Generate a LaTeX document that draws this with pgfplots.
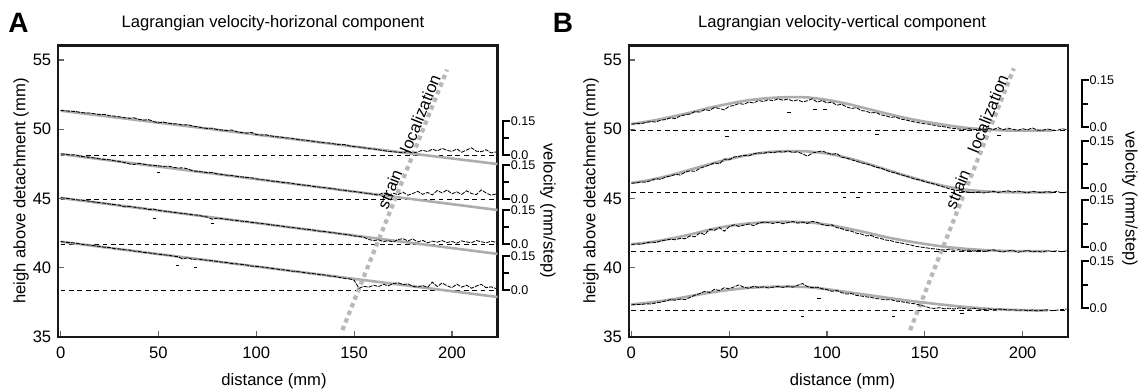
\documentclass[border=0pt]{standalone}
\usepackage{fontspec}
\setmainfont{Liberation Sans}
\usepackage{pgfplots}
\pgfplotsset{compat=1.18}
\newcommand{\lab}{\fontsize{8.3}{10}\selectfont}
\newcommand{\sml}{\fontsize{6.3}{7}\selectfont}
% bracket: #1 x of vertical line, #2 x of tick ends, #3 y bottom, #4 y middle, #5 y top
\newcommand{\vbrack}[5]{%
  \draw[black, line width=1pt, line cap=rect] (axis cs:#2,#5) -- (axis cs:#1,#5) -- (axis cs:#1,#3) -- (axis cs:#2,#3);
  \draw[black, line width=1pt] (axis cs:#1,#4) -- (axis cs:#2,#4);
  \node[anchor=west, font=\sml, inner sep=0.6pt] at (axis cs:#2,#5) {0.15};
  \node[anchor=west, font=\sml, inner sep=0.6pt] at (axis cs:#2,#3) {0.0};
}
\pgfplotsset{
 panel/.style={
  scale only axis, width=219.6pt, height=145.75pt,
  xmin=-1.2, xmax=223.3, ymin=35, ymax=56.05,
  xtick={0,50,100,150,200}, ytick={35,40,45,50,55},
  tick pos=left, tick align=inside,
  major tick length=2.8pt,
  tick style={black!60, line width=0.6pt},
  axis line style={black!90, line width=1.1pt},
  ticklabel style={font=\lab, black},
  /pgf/number format/assume math mode=true,
  xticklabel style={yshift=-1.2pt},
  clip=false,
 },
 datal/.style={black, line width=0.42pt, dash pattern=on 2pt off 0.6pt},
 fitl/.style={black!32, line width=1.3pt},
 basel/.style={black, line width=0.5pt, dash pattern=on 2.4pt off 1.8pt},
 strainl/.style={black!28, line width=2.1pt, dash pattern=on 2.2pt off 1.9pt},
 outl/.style={only marks, mark=-, mark size=0.9pt, black, mark options={line width=0.5pt}},
}
\begin{document}
\begin{tikzpicture}[x=1pt,y=1pt]
\useasboundingbox (0,0) rectangle (570,195);

%================ PANEL A ================
\begin{axis}[panel, at={(29.15pt,26.5pt)}, anchor=south west]
% baselines
\addplot[basel] coordinates {(0,48.14) (223.3,48.14)};
\addplot[basel] coordinates {(0,44.96) (223.3,44.96)};
\addplot[basel] coordinates {(0,41.71) (223.3,41.71)};
\addplot[basel] coordinates {(0,38.39) (223.3,38.39)};
% fits
\addplot[fitl] coordinates {(0,51.34) (223.3,47.49)};
\addplot[fitl] coordinates {(0,48.21) (223.3,44.17)};
\addplot[fitl] coordinates {(0,45.04) (223.3,41.00)};
\addplot[fitl] coordinates {(0,41.88) (223.3,37.89)};
% strain localization
\addplot[strainl] coordinates {(144,35.5) (197.5,54.3)};
% data
\addplot[datal] coordinates {(0,51.36) (2.5,51.33) (5,51.30) (7.5,51.29) (10,51.22) (12.5,51.18) (15,51.17) (17.5,51.12) (20,51.06) (22.5,51.08) (25,50.98) (27.5,50.95) (30,50.90) (32.5,50.84) (35,50.80) (37.5,50.83) (40,50.72) (42.5,50.66) (45,50.70) (47.5,50.55) (50,50.46) (52.5,50.52) (55,50.44) (57.5,50.40) (60,50.38) (62.5,50.30) (65,50.34) (67.5,50.22) (70,50.18) (72.5,50.10) (75,50.06) (77.5,50.08) (80,49.98) (82.5,49.94) (85,49.90) (87.5,49.95) (90,49.82) (92.5,49.76) (95,49.72) (97.5,49.78) (100,49.62) (102.5,49.58) (105,49.60) (107.5,49.52) (110,49.46) (112.5,49.44) (115,49.38) (117.5,49.36) (120,49.30) (122.5,49.24) (125,49.22) (127.5,49.16) (130,49.12) (132.5,49.06) (135,49.02) (137.5,49.00) (140,48.94) (142.5,48.88) (145,48.90) (147.5,48.80) (150,48.74) (152.5,48.72) (155,48.66) (157.5,48.60) (160,48.58) (162.5,48.52) (165,48.46) (167.5,48.40) (170,48.38) (172.5,48.34) (175,48.30) (177.5,48.42) (180,48.28) (182.5,48.36) (185,48.50) (187.5,48.38) (190,48.56) (192.5,48.44) (195,48.62) (197.5,48.48) (200,48.40) (202.5,48.58) (205,48.34) (207.5,48.50) (210,48.66) (212.5,48.42) (215,48.38) (217.5,48.52) (220,48.30) (222.5,48.36)};
\addplot[datal] coordinates {(0,48.22) (2.5,48.20) (5,48.14) (7.5,48.16) (10,48.05) (12.5,48.00) (15,47.98) (17.5,47.92) (20,47.86) (22.5,47.82) (25,47.80) (27.5,47.72) (30,47.68) (32.5,47.60) (35,47.50) (37.5,47.46) (40,47.54) (42.5,47.48) (45,47.42) (47.5,47.40) (50,47.36) (52.5,47.32) (55,47.34) (57.5,47.26) (60,47.20) (62.5,47.22) (65,47.14) (67.5,47.00) (70,46.96) (72.5,46.92) (75,46.86) (77.5,46.88) (80,46.78) (82.5,46.74) (85,46.68) (87.5,46.66) (90,46.60) (92.5,46.56) (95,46.52) (97.5,46.50) (100,46.42) (102.5,46.36) (105,46.34) (107.5,46.26) (110,46.24) (112.5,46.18) (115,46.14) (117.5,46.12) (120,46.04) (122.5,46.00) (125,45.96) (127.5,45.92) (130,45.86) (132.5,45.82) (135,45.78) (137.5,45.74) (140,45.70) (142.5,45.62) (145,45.60) (147.5,45.54) (150,45.50) (152.5,45.46) (155,45.40) (157.5,45.36) (160,45.30) (162.5,45.26) (165,45.42) (167.5,45.22) (170,45.38) (172.5,45.28) (175,45.46) (177.5,45.24) (180,45.36) (182.5,45.52) (185,45.30) (187.5,45.44) (190,45.26) (192.5,45.58) (195,45.40) (197.5,45.62) (200,45.34) (202.5,45.48) (205,45.30) (207.5,45.56) (210,45.36) (212.5,45.28) (215,45.62) (217.5,45.40) (220,45.24) (222.5,45.32)};
\addplot[datal] coordinates {(0,45.06) (2.5,45.02) (5,44.98) (7.5,44.92) (10,44.88) (12.5,44.86) (15,44.80) (17.5,44.74) (20,44.70) (22.5,44.66) (25,44.60) (27.5,44.56) (30,44.52) (32.5,44.40) (35,44.44) (37.5,44.38) (40,44.32) (42.5,44.30) (45,44.20) (47.5,44.24) (50,44.14) (52.5,44.10) (55,44.06) (57.5,44.00) (60,43.96) (62.5,43.92) (65,43.88) (67.5,43.82) (70,43.80) (72.5,43.72) (75,43.66) (77.5,43.50) (80,43.58) (82.5,43.54) (85,43.50) (87.5,43.44) (90,43.42) (92.5,43.36) (95,43.34) (97.5,43.28) (100,43.24) (102.5,43.20) (105,43.16) (107.5,43.10) (110,43.06) (112.5,43.02) (115,42.96) (117.5,42.92) (120,42.88) (122.5,42.84) (125,42.78) (127.5,42.76) (130,42.70) (132.5,42.64) (135,42.62) (137.5,42.56) (140,42.52) (142.5,42.46) (145,42.42) (147.5,42.38) (150,42.30) (152.5,42.26) (155,42.20) (157.5,42.04) (160,41.96) (162.5,42.02) (165,41.88) (167.5,41.96) (170,41.86) (172.5,42.04) (175,42.10) (177.5,41.94) (180,42.08) (182.5,41.86) (185,41.98) (187.5,41.80) (190,41.92) (192.5,41.84) (195,41.96) (197.5,41.82) (200,41.90) (202.5,41.78) (205,41.94) (207.5,41.86) (210,41.82) (212.5,41.96) (215,41.88) (217.5,41.80) (220,41.92) (222.5,41.84)};
\addplot[datal] coordinates {(0,41.90) (2.5,41.84) (5,41.82) (7.5,41.78) (10,41.72) (12.5,41.66) (15,41.64) (17.5,41.58) (20,41.54) (22.5,41.48) (25,41.46) (27.5,41.38) (30,41.36) (32.5,41.30) (35,41.28) (37.5,41.20) (40,41.18) (42.5,41.10) (45,41.08) (47.5,41.02) (50,40.98) (52.5,40.94) (55,40.90) (57.5,40.84) (60,40.80) (62.5,40.62) (65,40.74) (67.5,40.60) (70,40.64) (72.5,40.58) (75,40.54) (77.5,40.50) (80,40.46) (82.5,40.40) (85,40.38) (87.5,40.30) (90,40.28) (92.5,40.24) (95,40.20) (97.5,40.12) (100,40.10) (102.5,40.06) (105,40.02) (107.5,39.96) (110,39.92) (112.5,39.86) (115,39.84) (117.5,39.76) (120,39.74) (122.5,39.70) (125,39.64) (127.5,39.60) (130,39.56) (132.5,39.50) (135,39.48) (137.5,39.40) (140,39.38) (142.5,39.30) (145,39.24) (147.5,39.20) (150,39.10) (152.5,38.52) (155,38.66) (157.5,38.60) (160,38.74) (162.5,38.64) (165,38.80) (167.5,38.70) (170,38.86) (172.5,38.92) (175,38.78) (177.5,38.84) (180,38.66) (182.5,38.60) (185,38.72) (187.5,38.58) (190,38.96) (192.5,38.64) (195,38.90) (197.5,38.70) (200,38.56) (202.5,38.82) (205,38.60) (207.5,38.74) (210,38.52) (212.5,38.68) (215,38.80) (217.5,38.56) (220,38.62) (222.5,38.50)};
\addplot[outl] coordinates {(126,48.08) (145.5,48.10) (50,46.85) (48,43.55) (77.7,43.2) (59.7,40.15) (69,40.0)};
\node[rotate=68, font=\lab] at (axis cs:178,49.1) {strain\hspace{1.2em}localization};
% velocity scale brackets
\vbrack{226.2}{229.3}{48.14}{49.365}{50.59}
\vbrack{226.2}{229.3}{44.96}{46.185}{47.41}
\vbrack{226.2}{229.3}{41.71}{42.935}{44.16}
\vbrack{226.2}{229.3}{38.39}{39.615}{40.84}
\end{axis}

%================ PANEL B ================
\begin{axis}[panel, at={(314.5pt,26.5pt)}, anchor=south west]
\addplot[basel] coordinates {(0,49.90) (223.3,49.90)};
\addplot[basel] coordinates {(0,45.40) (223.3,45.40)};
\addplot[basel] coordinates {(0,41.20) (223.3,41.20)};
\addplot[basel] coordinates {(0,36.90) (223.3,36.90)};
% fits
\addplot[fitl, smooth] coordinates {(0,50.38) (10,50.6) (20,50.88) (30,51.2) (40,51.55) (50,51.85) (60,52.1) (70,52.25) (80,52.32) (90,52.3) (100,52.12) (110,51.85) (120,51.5) (130,51.15) (140,50.82) (150,50.55) (160,50.32) (170,50.12) (180,50.0) (190,49.92) (200,49.9) (215,49.9)};
\addplot[fitl, smooth] coordinates {(0,46.12) (10,46.35) (20,46.68) (30,47.08) (40,47.48) (50,47.85) (60,48.15) (70,48.35) (80,48.42) (90,48.4) (100,48.25) (110,47.95) (120,47.55) (130,47.1) (140,46.66) (150,46.25) (160,45.9) (170,45.65) (180,45.52) (190,45.46) (200,45.44) (215,45.44)};
\addplot[fitl, smooth] coordinates {(0,41.7) (10,41.85) (20,42.1) (30,42.4) (40,42.75) (50,43.02) (60,43.2) (70,43.3) (80,43.32) (90,43.28) (100,43.12) (110,42.85) (120,42.55) (130,42.22) (140,41.95) (150,41.72) (160,41.52) (170,41.38) (180,41.28) (190,41.22) (200,41.2) (213,41.2)};
\addplot[fitl, smooth] coordinates {(0,37.35) (10,37.5) (20,37.7) (30,37.95) (40,38.2) (50,38.4) (60,38.55) (70,38.62) (80,38.64) (90,38.6) (100,38.45) (110,38.25) (120,38.05) (130,37.85) (140,37.65) (150,37.48) (160,37.32) (170,37.18) (180,37.06) (190,36.98) (200,36.94) (213,36.92)};
\addplot[strainl] coordinates {(142.5,35.5) (195.5,54.4)};
% data
\addplot[datal] coordinates {(0,50.36) (2.5,50.42) (5,50.40) (7.5,50.50) (10,50.56) (12.5,50.52) (15,50.66) (17.5,50.70) (20,50.82) (22.5,50.78) (25,50.96) (27.5,51.04) (30,51.10) (32.5,51.28) (35,51.24) (37.5,51.42) (40,51.36) (42.5,51.58) (45,51.50) (47.5,51.40) (50,51.66) (52.5,51.72) (55,51.86) (57.5,51.80) (60,51.96) (62.5,51.90) (65,52.08) (67.5,52.00) (70,52.14) (72.5,52.06) (75,52.20) (77.5,52.10) (80,52.18) (82.5,52.04) (85,52.12) (87.5,51.98) (90,52.06) (92.5,52.20) (95,51.96) (97.5,52.08) (100,51.90) (102.5,51.96) (105,51.74) (107.5,51.80) (110,51.62) (112.5,51.50) (115,51.56) (117.5,51.36) (120,51.30) (122.5,51.18) (125,51.22) (127.5,51.04) (130,50.98) (132.5,50.86) (135,50.90) (137.5,50.74) (140,50.68) (142.5,50.60) (145,50.52) (147.5,50.46) (150,50.40) (152.5,50.36) (155,50.28) (157.5,50.22) (160,50.18) (162.5,50.10) (165,50.06) (167.5,50.02) (170,49.98) (172.5,50.04) (175,49.96) (177.5,50.02) (180,49.94) (182.5,50.06) (185,49.98) (187.5,50.12) (190,49.96) (192.5,50.08) (195,50.00) (197.5,49.92) (200,50.04) (202.5,49.96) (205,50.10) (207.5,49.94) (210,49.92) (212.5,50.02) (215,49.96) (217.5,49.90) (220,50.04) (222.5,49.98)};
\addplot[datal] coordinates {(0,46.10) (2.5,46.14) (5,46.20) (7.5,46.18) (10,46.30) (12.5,46.44) (15,46.38) (17.5,46.56) (20,46.62) (22.5,46.74) (25,46.70) (27.5,46.90) (30,47.00) (32.5,46.96) (35,47.18) (37.5,47.30) (40,47.42) (42.5,47.58) (45,47.50) (47.5,47.86) (50,47.80) (52.5,48.00) (55,48.04) (57.5,48.12) (60,48.08) (62.5,48.22) (65,48.30) (67.5,48.26) (70,48.36) (72.5,48.30) (75,48.40) (77.5,48.34) (80,48.44) (82.5,48.32) (85,48.38) (87.5,48.22) (90,48.06) (92.5,48.28) (95,48.36) (97.5,48.44) (100,48.30) (102.5,48.18) (105,48.26) (107.5,47.98) (110,47.92) (112.5,47.80) (115,47.70) (117.5,47.58) (120,47.50) (122.5,47.40) (125,47.26) (127.5,47.20) (130,47.06) (132.5,46.92) (135,46.86) (137.5,46.72) (140,46.64) (142.5,46.52) (145,46.40) (147.5,46.34) (150,46.22) (152.5,46.12) (155,46.04) (157.5,45.92) (160,45.82) (162.5,45.70) (165,45.62) (167.5,45.56) (170,45.50) (172.5,45.46) (175,45.42) (177.5,45.48) (180,45.40) (182.5,45.46) (185,45.52) (187.5,45.44) (190,45.50) (192.5,45.56) (195,45.46) (197.5,45.54) (200,45.48) (202.5,45.40) (205,45.52) (207.5,45.46) (210,45.42) (212.5,45.50) (215,45.44) (217.5,45.52) (220,45.40) (222.5,45.46)};
\addplot[datal] coordinates {(0,41.68) (2.5,41.72) (5,41.70) (7.5,41.80) (10,41.86) (12.5,41.82) (15,41.94) (17.5,42.00) (20,42.06) (22.5,42.02) (25,42.12) (27.5,42.10) (30,42.30) (32.5,42.24) (35,42.52) (37.5,42.40) (40,42.78) (42.5,42.70) (45,42.90) (47.5,42.64) (50,42.96) (52.5,43.10) (55,42.98) (57.5,43.08) (60,43.16) (62.5,43.04) (65,43.22) (67.5,43.30) (70,43.26) (72.5,43.20) (75,43.28) (77.5,43.18) (80,43.26) (82.5,43.34) (85,43.22) (87.5,43.30) (90,43.20) (92.5,43.36) (95,43.28) (97.5,43.12) (100,43.04) (102.5,43.10) (105,42.90) (107.5,42.82) (110,42.70) (112.5,42.64) (115,42.50) (117.5,42.44) (120,42.30) (122.5,42.34) (125,42.18) (127.5,42.12) (130,42.00) (132.5,41.96) (135,41.86) (137.5,41.80) (140,41.72) (142.5,41.66) (145,41.56) (147.5,41.50) (150,41.46) (152.5,41.40) (155,41.36) (157.5,41.32) (160,41.28) (162.5,41.34) (165,41.26) (167.5,41.30) (170,41.22) (172.5,41.28) (175,41.20) (177.5,41.26) (180,41.18) (182.5,41.24) (185,41.30) (187.5,41.20) (190,41.14) (192.5,41.22) (195,41.26) (197.5,41.12) (200,41.18) (202.5,41.26) (205,41.14) (207.5,41.20) (210,41.12) (212.5,41.24) (215,41.18) (217.5,41.22) (220,41.16) (222.5,41.22)};
\addplot[datal] coordinates {(0,37.32) (2.5,37.36) (5,37.34) (7.5,37.40) (10,37.38) (12.5,37.46) (15,37.52) (17.5,37.60) (20,37.70) (22.5,37.66) (25,37.74) (27.5,37.70) (30,37.86) (32.5,38.02) (35,38.14) (37.5,38.30) (40,38.22) (42.5,38.44) (45,38.36) (47.5,38.56) (50,38.48) (52.5,38.62) (55,38.76) (57.5,38.60) (60,38.52) (62.5,38.66) (65,38.58) (67.5,38.62) (70,38.54) (72.5,38.60) (75,38.66) (77.5,38.58) (80,38.68) (82.5,38.60) (85,38.74) (87.5,38.86) (90,38.64) (92.5,38.56) (95,38.60) (97.5,38.48) (100,38.42) (102.5,38.30) (105,38.36) (107.5,38.20) (110,38.10) (112.5,38.14) (115,38.00) (117.5,37.96) (120,37.90) (122.5,37.86) (125,37.78) (127.5,37.74) (130,37.68) (132.5,37.70) (135,37.60) (137.5,37.56) (140,37.50) (142.5,37.44) (145,37.40) (147.5,37.30) (150,37.22) (152.5,37.10) (155,37.06) (157.5,37.12) (160,37.04) (162.5,37.08) (165,37.02) (167.5,37.10) (170,37.06) (172.5,37.00) (175,37.08) (177.5,37.02) (180,36.98) (182.5,37.04) (185,36.96) (187.5,37.02) (190,37.00) (192.5,36.94) (195,36.98) (197.5,36.92) (200,36.96) (202.5,36.90) (205,36.94) (207.5,36.88) (210,36.92) (212.5,36.96) (215,36.90) (217.5,36.94) (220,36.98) (222.5,37.02)};
\addplot[outl] coordinates {(49,49.5) (80.5,51.2) (94,51.4) (99,51.45) (125.6,49.6) (188,49.55) (109,45.1) (116,45.1) (87.4,36.45) (134,36.45) (96,37.8) (169,36.7)};
\node[rotate=68, font=\lab] at (axis cs:176.5,49.1) {strain\hspace{1.2em}localization};
\vbrack{230.3}{233.4}{50.13}{51.83}{53.53}
\vbrack{230.3}{233.4}{45.76}{47.46}{49.16}
\vbrack{230.3}{233.4}{41.47}{43.17}{44.87}
\vbrack{230.3}{233.4}{37.09}{38.79}{40.49}
\end{axis}

% labels
\node[font=\fontsize{14}{16}\selectfont\bfseries] at (9.3,183.5) {A};
\node[font=\fontsize{14}{16}\selectfont\bfseries] at (281.5,183.5) {B};
\node[font=\lab] at (136.5,183.5) {Lagrangian velocity-horizonal component};
\node[font=\lab] at (421,183.5) {Lagrangian velocity-vertical component};
\node[font=\lab] at (137,4.5) {distance (mm)};
\node[font=\lab] at (421.25,4.5) {distance (mm)};
\node[font=\lab, rotate=90] at (10.5,99.5) {heigh above detachment (mm)};
\node[font=\lab, rotate=90] at (295.5,99.5) {heigh above detachment (mm)};
\node[font=\lab, rotate=-90] at (274,89.5) {velocity (mm/step)};
\node[font=\lab, rotate=-90] at (565,95.5) {velocity (mm/step)};
\end{tikzpicture}
\end{document}
